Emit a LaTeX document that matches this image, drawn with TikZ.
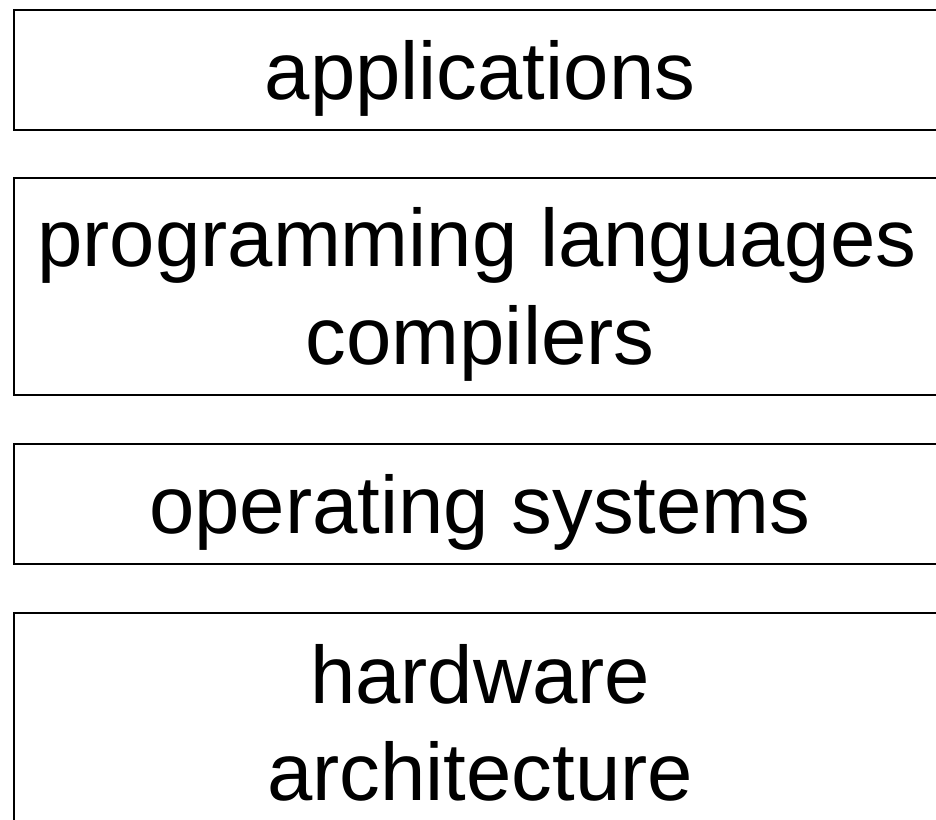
\documentclass[tikz,border=0pt]{standalone}
\usepackage{fontspec}
\setmainfont{Liberation Sans}
\begin{document}
\begin{tikzpicture}[x=1pt,y=1pt,
  layer/.style={draw=black, line width=2pt, rectangle, minimum width=933pt, inner sep=0pt},
  lbl/.style={font=\fontsize{81.5}{97}\selectfont, anchor=base, inner sep=0pt, align=center}]
\useasboundingbox (0,0) rectangle (936,819);
\clip (0,0) rectangle (936,819);
% boxes (y measured from bottom)
\node[layer, minimum height=120pt] (app) at (480,749) {};
\node[layer, minimum height=217pt] (pl)  at (480,532.5) {};
\node[layer, minimum height=120pt] (os)  at (480,315) {};
\node[layer, minimum height=217pt] (hw)  at (480,97.5) {};
% labels
\node[lbl] (tapp) at (480,719) {applications};
\node[lbl] (tpl1) at (477,552) {programming languages};
\node[lbl] (tpl2) at (480,454) {compilers};
\node[lbl] (tos)  at (480,285) {operating systems};
\node[lbl] (thw1) at (480,116) {hardware};
\node[lbl] (thw2) at (480,19) {architecture};
\end{tikzpicture}
\end{document}
